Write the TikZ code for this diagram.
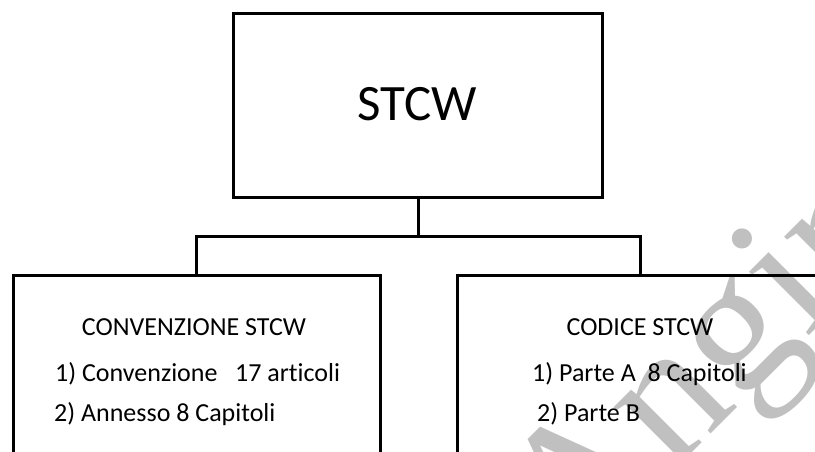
\documentclass[tikz,border=0pt]{standalone}
\usepackage{fontspec}
\setmainfont[Ligatures=CommonOff]{Carlito}
\newfontfamily\wmfont{Liberation Serif}
\definecolor{wmgray}{RGB}{192,192,192}
\tikzset{
  box/.style={draw=black, line width=3pt, inner sep=0pt},
  conn/.style={draw=black, line width=3pt},
  txt/.style={inner sep=0pt, font=\fontsize{26}{30}\selectfont},
}
\begin{document}
\begin{tikzpicture}[x=1pt,y=-1pt]
\useasboundingbox (0,0) rectangle (815,452);
\clip (0,0) rectangle (815,452);
% watermark
\node[text=wmgray, font=\wmfont\fontsize{190}{190}\selectfont, rotate=45, anchor=base west, inner sep=0pt] (wm) at (575,570) {Angir};
% boxes
\node[box, minimum width=369pt, minimum height=183pt] (top) at (418,105.5) {};
\node[box, minimum width=367pt, minimum height=260pt, anchor=north west] (left) at (12,274) {};
\node[box, minimum width=380pt, minimum height=260pt, anchor=north west] (right) at (456,274) {};
\coordinate (bus) at (418,236);
\draw[conn] (top.south) -- (bus);
\draw[conn] (left.north -| 196,0) |- (bus) -| (right.north -| 640,0);
% texts
\node[inner sep=0pt, anchor=base, font=\fontsize{51}{60}\selectfont] (t0) at (417,120.5) {STCW};
\node[txt, anchor=base] (l0) at (194,335) {CONVENZIONE STCW};
\node[txt, anchor=base west] (l1) at (55,381) {1) Convenzione \ \ 17 articoli};
\node[txt, anchor=base west] (l2) at (54,421) {2) Annesso 8 Capitoli};
\node[txt, anchor=base] (r0) at (640,335) {CODICE STCW};
\node[txt, anchor=base west] (r1) at (532,381) {1) Parte A \ 8 Capitoli};
\node[txt, anchor=base west] (r2) at (537,421) {2) Parte B};
\end{tikzpicture}
\end{document}
